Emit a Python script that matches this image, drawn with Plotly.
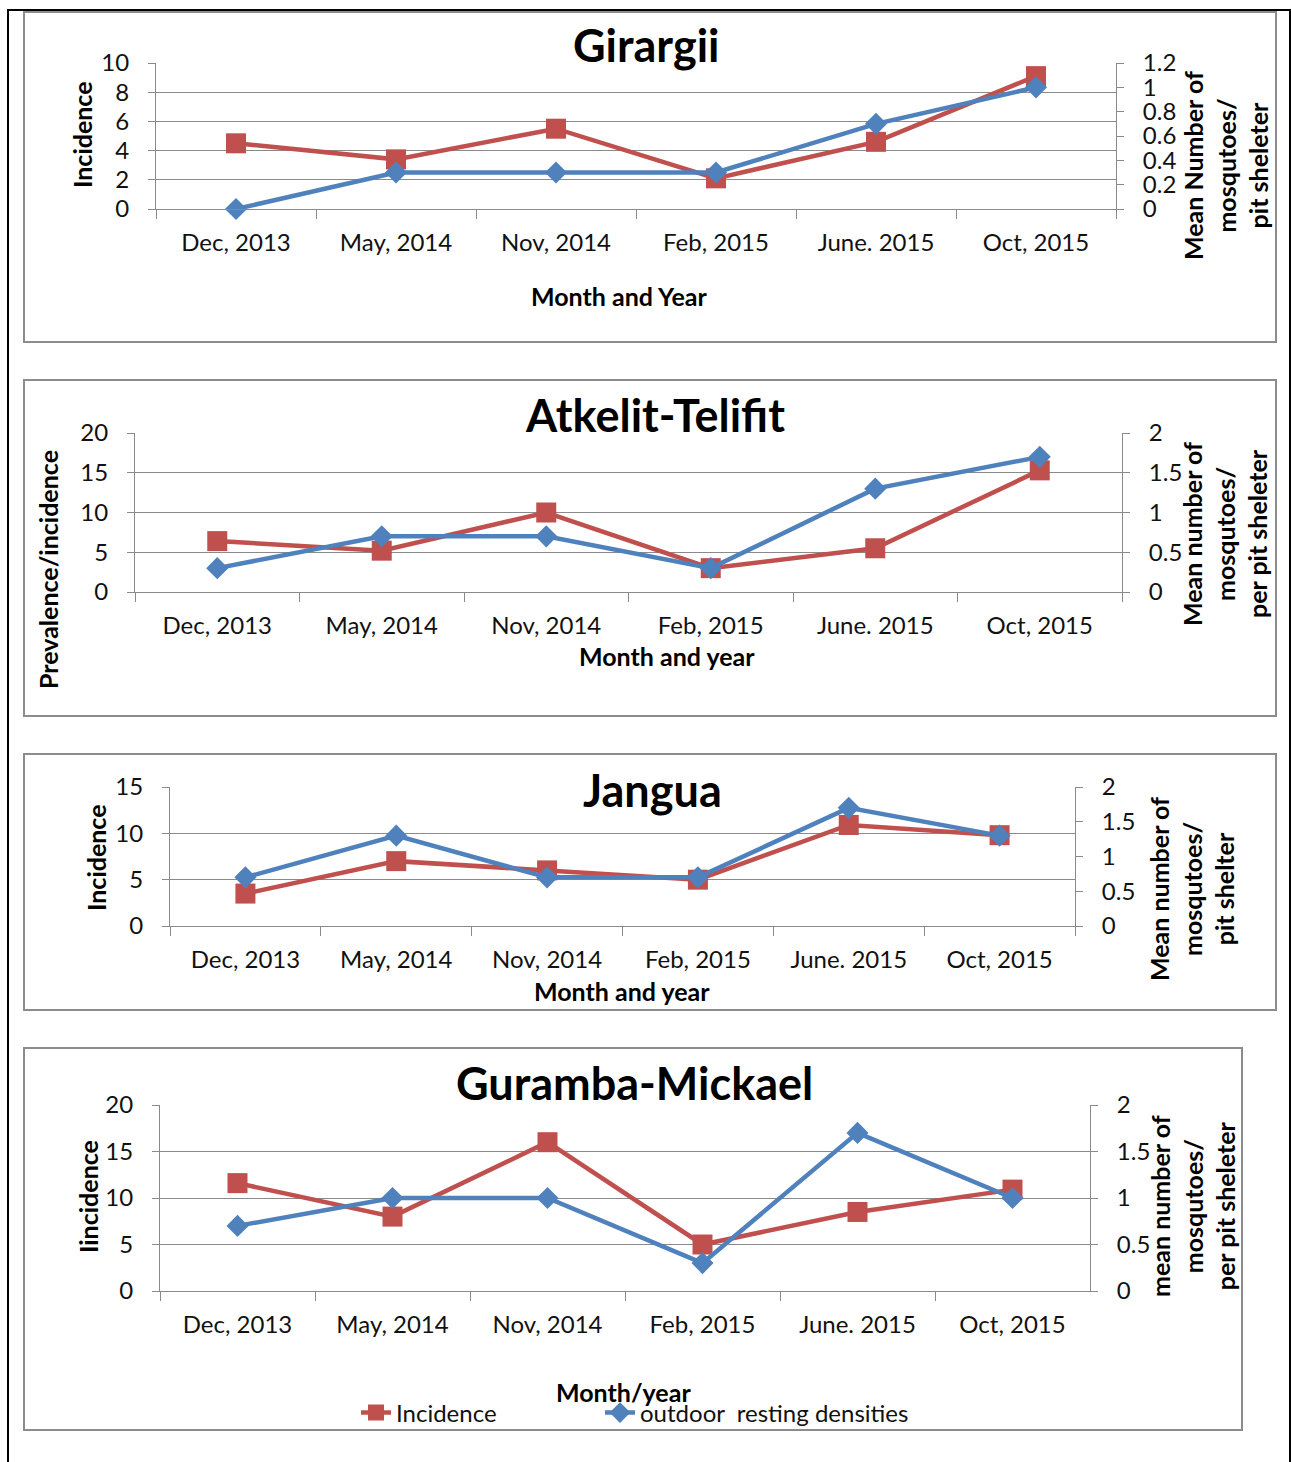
import plotly.graph_objects as go

W, H = 1291, 1462

months = ["Dec, 2013", "May, 2014", "Nov, 2014", "Feb, 2015", "June. 2015", "Oct, 2015"]

# Girargii
girargii_incidence = [4.5, 3.4, 5.5, 2.1, 4.6, 9.1]
girargii_density = [0.0, 0.3, 0.3, 0.3, 0.7, 1.0]
# Atkelit-Telifit
atkelit_incidence = [6.4, 5.2, 10.0, 3.0, 5.5, 15.3]
atkelit_density = [0.3, 0.7, 0.7, 0.3, 1.3, 1.7]
# Jangua
jangua_incidence = [3.5, 7.0, 6.0, 5.0, 10.9, 9.8]
jangua_density = [0.7, 1.3, 0.7, 0.7, 1.7, 1.3]
# Guramba-Mickael
guramba_incidence = [11.6, 8.0, 16.0, 5.0, 8.5, 10.9]
guramba_density = [0.7, 1.0, 1.0, 0.3, 1.7, 1.0]

RED = "#C0504D"
BLUE = "#4F81BD"
GRID = "#8a8a8a"
TXT = "#111111"
FONT = "Lato"


def px(x):
    return x / W


def py(y):
    return 1 - y / H


panels = [
    dict(title="Girargii", inc=girargii_incidence, den=girargii_density,
         x=(156, 1116), y=(63, 209), lmax=10, ldt=2, rmax=1.2, rdt=0.2,
         box=(24, 12, 1276, 342), title_xy=(646, 45),
         xtitle="Month and Year", xtitle_xy=(619, 296),
         ltitle="Incidence", ltitle_xy=(82, 135),
         rtitle="Mean Number of<br>mosqutoes/<br>pit sheleter", rtitle_xy=(1225, 166)),
    dict(title="Atkelit-Telifit", inc=atkelit_incidence, den=atkelit_density,
         x=(135, 1122), y=(433, 592), lmax=20, ldt=5, rmax=2, rdt=0.5,
         box=(24, 380, 1276, 716), title_xy=(655, 415),
         xtitle="Month and year", xtitle_xy=(667, 656),
         ltitle="Prevalence/incidence", ltitle_xy=(48, 570),
         rtitle="Mean number of<br>mosqutoes/<br>per pit sheleter", rtitle_xy=(1224, 534)),
    dict(title="Jangua", inc=jangua_incidence, den=jangua_density,
         x=(170, 1075), y=(787, 926), lmax=15, ldt=5, rmax=2, rdt=0.5,
         box=(24, 754, 1276, 1010), title_xy=(652, 790),
         xtitle="Month and year", xtitle_xy=(622, 991),
         ltitle="Incidence", ltitle_xy=(96, 857),
         rtitle="Mean number of<br>mosqutoes/<br>pit shelter", rtitle_xy=(1192, 889)),
    dict(title="Guramba-Mickael", inc=guramba_incidence, den=guramba_density,
         x=(160, 1090), y=(1105, 1291), lmax=20, ldt=5, rmax=2, rdt=0.5,
         box=(24, 1048, 1242, 1430), title_xy=(634, 1083),
         xtitle="Month/year", xtitle_xy=(623, 1392),
         ltitle="Iincidence", ltitle_xy=(88, 1197),
         rtitle="mean number of<br>mosqutoes/<br>per pit sheleter", rtitle_xy=(1192, 1206)),
]

fig = go.Figure()
layout = dict(
    width=W, height=H,
    margin=dict(l=0, r=0, t=0, b=0, autoexpand=False),
    paper_bgcolor="white", plot_bgcolor="rgba(0,0,0,0)",
    font=dict(family=FONT, color=TXT, size=24),
    shapes=[], annotations=[],
)

# outer frame of the figure
layout["shapes"].append(dict(type="rect", xref="paper", yref="paper",
                             x0=px(8), x1=px(1290), y0=py(1480), y1=py(10),
                             line=dict(color="black", width=2), layer="below"))

for i, p in enumerate(panels):
    n = 2 * i + 1
    xa = "x" if i == 0 else f"x{i + 1}"
    ya_l = "y" if n == 1 else f"y{n}"
    ya_r = f"y{n + 1}"
    last = i == len(panels) - 1

    fig.add_trace(go.Scatter(
        x=months, y=p["inc"], xaxis=xa, yaxis=ya_l, name="Incidence",
        mode="lines+markers", line=dict(color=RED, width=4.5),
        marker=dict(symbol="square", size=20, color=RED), cliponaxis=False,
        showlegend=last, legend="legend"))
    fig.add_trace(go.Scatter(
        x=months, y=p["den"], xaxis=xa, yaxis=ya_r, name="outdoor  resting densities",
        mode="lines+markers", line=dict(color=BLUE, width=4.5),
        marker=dict(symbol="diamond", size=17, color=BLUE), cliponaxis=False,
        showlegend=last, legend="legend2"))

    xdom = [px(p["x"][0]), px(p["x"][1])]
    ydom = [py(p["y"][1]), py(p["y"][0])]
    xkey = "xaxis" if i == 0 else f"xaxis{i + 1}"
    ylkey = "yaxis" if n == 1 else f"yaxis{n}"
    yrkey = f"yaxis{n + 1}"

    layout[xkey] = dict(
        domain=xdom, anchor=ya_l, type="category", categoryorder="array",
        categoryarray=months, range=[-0.5, 5.5], tickson="boundaries",
        ticks="outside", ticklen=9, tickcolor=GRID, tickwidth=1,
        showline=True, linecolor=GRID, linewidth=1, showgrid=False,
        tickfont=dict(size=24, color=TXT), ticklabelstandoff=12,
        fixedrange=True)
    layout[ylkey] = dict(
        domain=ydom, anchor=xa, range=[0, p["lmax"]], dtick=p["ldt"], tick0=0,
        ticks="outside", ticklen=7, tickcolor=GRID, tickwidth=1,
        showline=True, linecolor=GRID, linewidth=1,
        showgrid=True, gridcolor=GRID, gridwidth=1, zeroline=False,
        tickfont=dict(size=24, color=TXT), ticklabelstandoff=14,
        fixedrange=True)
    layout[yrkey] = dict(
        domain=ydom, anchor=xa, overlaying=ya_l, side="right",
        range=[0, p["rmax"]], dtick=p["rdt"], tick0=0,
        ticks="outside", ticklen=7, tickcolor=GRID, tickwidth=1,
        showline=True, linecolor=GRID, linewidth=1,
        showgrid=False, zeroline=False,
        tickfont=dict(size=24, color=TXT), ticklabelstandoff=14,
        fixedrange=True)

    bx0, by0, bx1, by1 = p["box"]
    layout["shapes"].append(dict(type="rect", xref="paper", yref="paper",
                                 x0=px(bx0), x1=px(bx1), y0=py(by1), y1=py(by0),
                                 line=dict(color="#8c8c8c", width=2), layer="below"))

    ann = layout["annotations"]
    ann.append(dict(text=p["title"], x=px(p["title_xy"][0]), y=py(p["title_xy"][1]),
                    xref="paper", yref="paper", showarrow=False,
                    xanchor="center", yanchor="middle",
                    font=dict(size=45, color="black", family=FONT, weight="bold")))
    ann.append(dict(text=p["xtitle"], x=px(p["xtitle_xy"][0]), y=py(p["xtitle_xy"][1]),
                    xref="paper", yref="paper", showarrow=False,
                    xanchor="center", yanchor="middle",
                    font=dict(size=25, color="black", family=FONT, weight="bold")))
    ann.append(dict(text=p["ltitle"], x=px(p["ltitle_xy"][0]), y=py(p["ltitle_xy"][1]),
                    xref="paper", yref="paper", showarrow=False, textangle=-90,
                    xanchor="center", yanchor="middle",
                    font=dict(size=25, color="black", family=FONT, weight="bold")))
    ann.append(dict(text=p["rtitle"], x=px(p["rtitle_xy"][0]), y=py(p["rtitle_xy"][1]),
                    xref="paper", yref="paper", showarrow=False, textangle=-90,
                    xanchor="center", yanchor="middle", align="center",
                    font=dict(size=25, color="black", family=FONT, weight="bold")))

legend_common = dict(orientation="h", yanchor="middle", xanchor="left",
                     font=dict(size=24, color=TXT), bgcolor="rgba(0,0,0,0)",
                     itemwidth=30)
layout["legend"] = dict(x=px(356), y=py(1413), **legend_common)
layout["legend2"] = dict(x=px(600), y=py(1413), **legend_common)
layout["showlegend"] = True

fig.update_layout(**layout)
fig.write_html("out.html")
